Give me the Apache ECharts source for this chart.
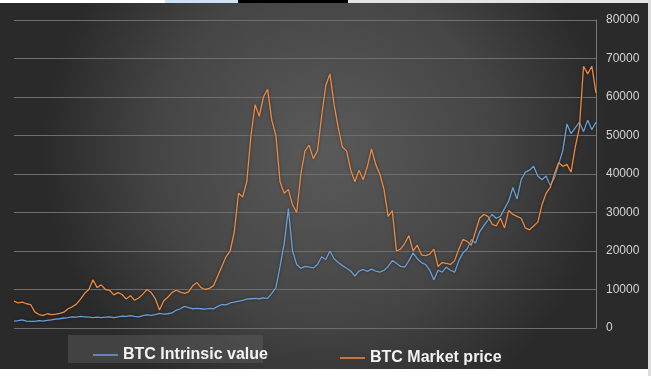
<!DOCTYPE html>
<html>
<head>
<meta charset="utf-8">
<title>BTC intrinsic value vs market price</title>
<script src="https://cdn.jsdelivr.net/npm/echarts@6/dist/echarts.min.js"></script>
<style>
  html, body { margin: 0; padding: 0; background: #fff; }
  #chart { width: 651px; height: 376px; }
</style>
</head>
<body>
<div id="chart"></div>
<script>
// values, one point every ~4px along the time axis
var intrinsic = [
  1800, 1900, 2100, 1800, 1700, 1700, 1900, 1800, 2000, 2100,
  2300, 2400, 2600, 2700, 2900, 2800, 3000, 2900, 2800, 2700,
  2800, 2700, 2800, 2900, 2700, 2900, 3100, 3000, 3200, 3000,
  2900, 3200, 3400, 3300, 3500, 3800, 3600, 3700, 3900, 4600,
  5000, 5600, 5300, 5000, 5100, 5000, 4900, 5100, 5000, 5600,
  6100, 6000, 6500, 6700, 7000, 7200, 7500, 7600, 7700, 7600,
  7800, 7700, 9000, 10500, 16000, 22000, 31000, 20000, 16500, 15500,
  16000, 15800, 15600, 16500, 18500, 17800, 20000, 18000, 17000, 16200,
  15500, 14800, 13500, 14800, 15200, 14700, 15300, 14800, 14500, 15000,
  16000, 17500, 16800, 16000, 15800, 17500, 19500, 18000, 17000, 16500,
  15000, 12500, 15000, 14500, 15800, 15000, 14500, 17500, 19500, 20500,
  23000, 22000, 25000, 26500, 28000, 29500, 28500, 29000, 31000, 33000,
  36500, 33500, 38500, 40500, 41000, 42000, 39500, 38500, 39500, 37000,
  39000, 42500, 46000, 53000, 50500, 52000, 53500, 51000, 54000, 51500,
  53500
];
var market = [
  7000, 6500, 6700, 6300, 6100, 4200, 3500, 3300, 3700, 3500,
  3600, 3800, 4100, 5000, 5500, 6200, 7500, 9000, 10000, 12500,
  10500, 11200, 10000, 9800, 8600, 9200, 8700, 7500, 8400, 7200,
  7800, 8800, 10000, 9200, 7600, 4700, 7000, 8000, 9200, 9800,
  9300, 9000, 9400, 11000, 11800, 10500, 10000, 10300, 11000, 13500,
  16000, 18500, 20000, 25000, 35000, 34000, 38000, 50000, 58000, 55000,
  60000, 62000, 54000, 50000, 38000, 35000, 36000, 32000, 30000, 40000,
  46000, 47500, 44000, 46000, 55000, 63000, 66000, 58000, 52000, 47000,
  46000, 41000, 38000, 41000, 38500, 42000, 46500, 42500, 40000, 36000,
  29000, 30500, 20000, 20500, 22000, 24000, 20000, 21500, 19000, 18800,
  19200, 20500, 16000, 17000, 16800, 16500, 17500, 20500, 23000, 22500,
  21500, 25000, 28500, 29500, 29000, 27000, 26500, 28500, 26000, 30500,
  29500, 29000, 28500, 26000, 25500, 26500, 27500, 32000, 35000, 36500,
  40000, 43000, 42000, 42500, 40500, 47000, 52000, 68000, 66000, 68000,
  61000
];
var yTicks = [0, 10000, 20000, 30000, 40000, 50000, 60000, 70000, 80000];
var seriesNames = ['BTC Intrinsic value', 'BTC Market price'];

var periods = intrinsic.map(function (v, i) { return i; });

var chart = echarts.init(document.getElementById('chart'));
var legendText = { color: '#f2f2f2', fontSize: 16, fontWeight: 'bold',
  fontFamily: 'Liberation Sans, Arial, sans-serif' };
var option = {
  animation: false,
  backgroundColor: {
    type: 'radial', x: 0.5, y: 0.4, r: 0.75,
    colorStops: [
      { offset: 0, color: '#5a5a5a' },
      { offset: 0.6, color: '#454545' },
      { offset: 1, color: '#2a2a2a' }
    ]
  },
  grid: { left: 14, right: 55, top: 20, bottom: 48 },
  xAxis: {
    type: 'category',
    data: periods,
    boundaryGap: false,
    axisLine: { show: false },
    axisTick: { show: false },
    axisLabel: { show: false },
    splitLine: { show: false }
  },
  yAxis: {
    type: 'value',
    position: 'right',
    min: yTicks[0],
    max: yTicks[yTicks.length - 1],
    interval: 10000,
    axisLine: { show: true, lineStyle: { color: '#7a7a7a', width: 1 } },
    axisTick: { show: false },
    axisLabel: {
      color: '#d4d4d4', fontSize: 12, margin: 10,
      fontFamily: 'Liberation Sans, Arial, sans-serif',
      formatter: function (v) { return String(v); }
    },
    splitLine: { lineStyle: { color: '#6e6e6e', width: 1 } }
  },
  legend: [
    {
      data: [seriesNames[0]],
      left: 88, top: 342,
      icon: 'rect', itemWidth: 25, itemHeight: 1.5, itemGap: 4,
      textStyle: legendText
    },
    {
      data: [seriesNames[1]],
      left: 335, top: 345,
      icon: 'rect', itemWidth: 25, itemHeight: 1.5, itemGap: 4,
      textStyle: legendText
    }
  ],
  graphic: [
    { type: 'rect', left: 68, top: 335, z: -1,
      shape: { width: 195, height: 28 },
      style: { fill: 'rgba(95,95,95,0.45)' } },
    { type: 'rect', left: 0, top: 0,
      shape: { width: 165, height: 3 }, style: { fill: '#ffffff' } },
    { type: 'rect', left: 165, top: 0,
      shape: { width: 73, height: 3 }, style: { fill: '#cfe2f5' } },
    { type: 'rect', left: 238, top: 0,
      shape: { width: 110, height: 3 }, style: { fill: '#000000' } },
    { type: 'rect', left: 348, top: 0,
      shape: { width: 303, height: 3 }, style: { fill: '#e4e4e4' } },
    { type: 'rect', left: 0, top: 369,
      shape: { width: 651, height: 7 }, style: { fill: '#ffffff' } },
    { type: 'rect', left: 648, top: 0,
      shape: { width: 3, height: 376 }, style: { fill: '#dcdcdc' } }
  ],
  series: [
    {
      name: seriesNames[0],
      type: 'line',
      data: intrinsic,
      symbol: 'none',
      lineStyle: { color: '#6a9fd6', width: 1.3,
        shadowColor: 'rgba(0,0,0,0.5)', shadowBlur: 3 },
      itemStyle: { color: '#6a9fd6' }
    },
    {
      name: seriesNames[1],
      type: 'line',
      data: market,
      symbol: 'none',
      lineStyle: { color: '#ec8a44', width: 1.3,
        shadowColor: 'rgba(0,0,0,0.5)', shadowBlur: 3 },
      itemStyle: { color: '#ec8a44' }
    }
  ]
};
chart.setOption(option);
</script>
</body>
</html>
